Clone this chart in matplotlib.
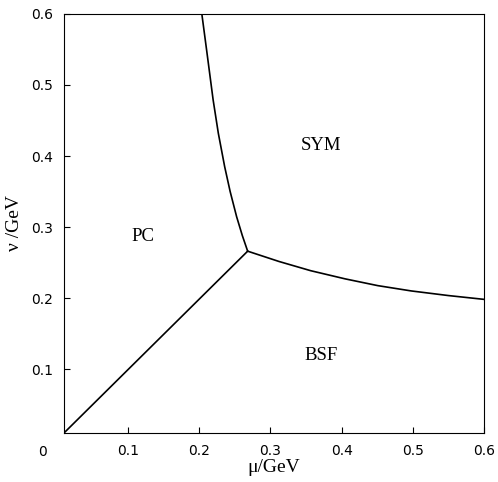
import matplotlib.pyplot as plt

# phase boundaries (mu, nu in GeV)
triple = (0.268, 0.266)

pc_bsf_mu = [0.01, triple[0]]
pc_bsf_nu = [0.01, triple[1]]

pc_sym_mu = [0.2035, 0.2105, 0.2195, 0.2268, 0.2357, 0.2434, 0.2525, 0.2605, triple[0]]
pc_sym_nu = [0.601, 0.548, 0.479, 0.432, 0.385, 0.350, 0.3145, 0.288, triple[1]]

bsf_sym_mu = [triple[0], 0.312, 0.3566, 0.4050, 0.4507, 0.4979, 0.5500, 0.6014]
bsf_sym_nu = [triple[1], 0.2515, 0.2385, 0.227, 0.2175, 0.2100, 0.2035, 0.198]

regions = ['PC', 'SYM', 'BSF']
region_mu = [0.121, 0.371, 0.371]
region_nu = [0.287, 0.4155, 0.1197]

xticks = [0.1, 0.2, 0.3, 0.4, 0.5, 0.6]
yticks = [0.1, 0.2, 0.3, 0.4, 0.5, 0.6]

fig = plt.figure(figsize=(4.98, 4.82), dpi=100)
ax = fig.add_axes([0.1285, 0.1017, 0.8434, 0.8693])

ax.plot(pc_bsf_mu, pc_bsf_nu, color='black', lw=1.2)
ax.plot(pc_sym_mu, pc_sym_nu, color='black', lw=1.2)
ax.plot(bsf_sym_mu, bsf_sym_nu, color='black', lw=1.2)

for name, m, n in zip(regions, region_mu, region_nu):
    ax.text(m, n, name, ha='center', va='center', fontsize=13.5, family='Liberation Serif')

ax.set_xlim(0.01, 0.6)
ax.set_ylim(0.01, 0.6)
ax.set_xticks(xticks)
ax.set_yticks(yticks)
ax.set_xticklabels([str(t) for t in xticks])
ax.set_yticklabels([str(t) for t in yticks])
ax.tick_params(direction='in', length=4, labelsize=10, pad=8)
ax.text(-0.05, -0.045, '0', transform=ax.transAxes, ha='center', va='center', fontsize=10)

ax.set_xlabel('μ/GeV', fontsize=14, family='Liberation Serif', labelpad=1)
ax.set_ylabel('ν /GeV', fontsize=14, family='Liberation Serif', labelpad=6)

fig.savefig('out.png', dpi=100)
